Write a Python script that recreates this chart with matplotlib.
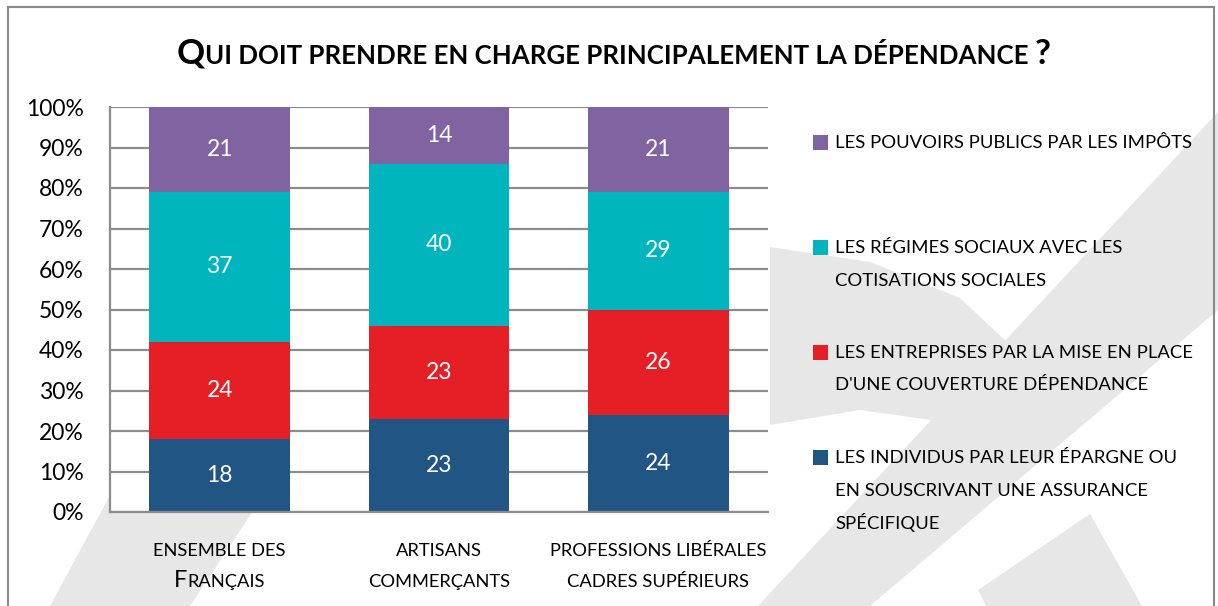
import numpy as np
import matplotlib
matplotlib.use("Agg")
import matplotlib.pyplot as plt
from matplotlib.patches import Polygon, Rectangle

plt.rcParams['font.family'] = ['Lato', 'DejaVu Sans']

title = "Qui doit prendre en charge principalement la dépendance ?"
categories = ["ENSEMBLE DES\nFrançais", "ARTISANS\nCOMMERÇANTS", "PROFESSIONS LIBÉRALES\nCADRES SUPÉRIEURS"]
series = ["LES INDIVIDUS PAR LEUR ÉPARGNE OU\nEN SOUSCRIVANT UNE ASSURANCE\nSPÉCIFIQUE",
          "LES ENTREPRISES PAR LA MISE EN PLACE\nD'UNE COUVERTURE DÉPENDANCE",
          "LES RÉGIMES SOCIAUX AVEC LES\nCOTISATIONS SOCIALES",
          "LES POUVOIRS PUBLICS PAR LES IMPÔTS"]
individus = [18, 23, 24]
entreprises = [24, 23, 26]
regimes = [37, 40, 29]
pouvoirs = [21, 14, 21]
colors = ["#215584", "#E61E25", "#00B5BD", "#8064A2"]

W, H = 1218, 606
fig = plt.figure(figsize=(W / 100, H / 100), dpi=100)
renderer = fig.canvas.get_renderer()


def fx(x):
    return x / W


def fy(y):
    return 1 - y / H


# watermark in the background (pixel coords, top-left origin)
shapes = [
    [(758, 606), (870, 606), (1218, 310), (1218, 112)],
    [(770, 247), (870, 262), (960, 298), (1010, 345), (931, 420), (860, 410), (770, 425)],
    [(978, 590), (1090, 514), (1142, 606), (986, 606)],
    [(50, 606), (190, 606), (300, 440), (140, 440)],
]
for pts in shapes:
    fig.patches.append(Polygon([(fx(a), fy(b)) for a, b in pts], closed=True,
                               transform=fig.transFigure, facecolor="#e7e7e7",
                               edgecolor="none", zorder=-5))

# frame
for xs, ys in [((8, 8), (606, 7)), ((8, 1214), (7, 7)), ((1214, 1214), (7, 606))]:
    fig.lines.append(plt.Line2D([fx(v) for v in xs], [fy(v) for v in ys],
                                transform=fig.transFigure, color="#8a8a8a", lw=1.5, zorder=5))

ax = fig.add_axes([fx(110), fy(512), fx(768) - fx(110), fy(107) - fy(512)])
ax.set_facecolor("white")

x = np.arange(len(categories))
values = [individus, entreprises, regimes, pouvoirs]
bottom = np.zeros(len(categories))
for vals, col, lab in zip(values, colors, series):
    bars = ax.bar(x, vals, 0.64, bottom=bottom, color=col, label=lab, zorder=2)
    ax.bar_label(bars, labels=[str(v) for v in vals], label_type="center",
                 color="white", fontsize=16.5)
    bottom += np.array(vals)

ax.set_xlim(-0.5, 2.5)
ax.set_ylim(0, 100)
ax.set_yticks(range(0, 101, 10))
ax.set_yticklabels([f"{v}%" for v in range(0, 101, 10)], fontsize=16.5)
ax.tick_params(axis="y", length=0, pad=19)
ax.set_xticks([])
ax.yaxis.grid(True, color="#8c8c8c", lw=1.6)
ax.set_axisbelow(True)
for s in ["top", "right"]:
    ax.spines[s].set_visible(False)
for s in ["left", "bottom"]:
    ax.spines[s].set_color("#8c8c8c")
    ax.spines[s].set_linewidth(1.6)


def text_w(s, size, weight):
    t = fig.text(0, 0, s, fontsize=size, fontweight=weight)
    w = t.get_window_extent(renderer).width
    t.remove()
    return w


def advance(s, size, weight):
    return text_w("I" + s + "I", size, weight) - text_w("II", size, weight)


def small_caps(xc, y, s, big, small, weight="normal"):
    # draw s centred at pixel xc, baseline y, with lowercase shown as small capitals
    if not any(c.islower() for c in s):
        fig.text(fx(xc), fy(y), s, fontsize=small, fontweight=weight,
                 ha="center", va="baseline")
        return
    runs = []
    for c in s:
        size = small if (c.islower() or c == " ") else big
        if runs and runs[-1][1] == size:
            runs[-1][0] += c.upper()
        else:
            runs.append([c.upper(), size])
    widths = [advance(r, sz, weight) for r, sz in runs]
    pos = xc - sum(widths) / 2
    for (r, sz), w in zip(runs, widths):
        fig.text(fx(pos), fy(y), r, fontsize=sz, fontweight=weight,
                 ha="left", va="baseline")
        pos += w


small_caps(614, 64, title, 25, 18.6, weight="bold")

centers = ax.transData.transform([(i, 0) for i in x])[:, 0]
for cx, lab in zip(centers, categories):
    for j, line in enumerate(lab.split("\n")):
        small_caps(cx, 556 + 31 * j, line, 17, 13.2)

# legend, top entry first
for k, (lab, col) in enumerate(zip(series[::-1], colors[::-1])):
    y0 = 142 + 105 * k
    fig.patches.append(Rectangle((fx(813), fy(y0 + 8)), fx(15), 15 / H,
                                 transform=fig.transFigure, facecolor=col, edgecolor="none"))
    for j, line in enumerate(lab.split("\n")):
        fig.text(fx(835), fy(y0 + 1 + 32.5 * j), line, fontsize=13.3, ha="left", va="center")

fig.savefig("out.png", dpi=100, facecolor="white")
